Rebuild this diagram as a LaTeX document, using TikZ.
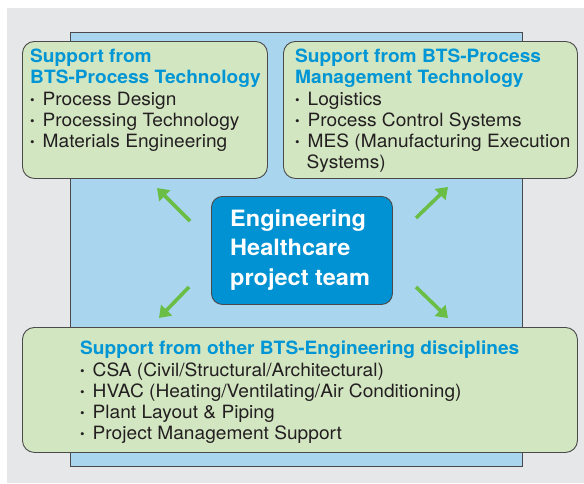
\documentclass[tikz,border=0pt]{standalone}
\usepackage{fontspec}
\setmainfont{TeX Gyre Heros}[FakeStretch=1.045]
\usetikzlibrary{arrows.meta}
\definecolor{bggray}{HTML}{E6E7E8}
\definecolor{skyblue}{HTML}{A9D5EF}
\definecolor{boxgreen}{HTML}{D3E6C2}
\definecolor{teamblue}{HTML}{0092D2}
\definecolor{titleblue}{HTML}{0096D6}
\definecolor{edgegray}{HTML}{4A4A4A}
\definecolor{arrowgreen}{HTML}{6ABD45}
\definecolor{inkblack}{HTML}{231F20}
\newcommand{\bl}{\makebox[12.5pt][l]{\raisebox{1pt}{\fontsize{12.5}{12}\selectfont •}}}
\tikzset{
  greenbox/.style={draw=edgegray, line width=0.9pt, fill=boxgreen, rounded corners=12pt, anchor=north west, inner sep=0pt},
  teambox/.style={draw=edgegray, line width=0.9pt, fill=teamblue, rounded corners=11pt, anchor=north west, inner sep=0pt},
  boxtext/.style={anchor=base west, align=left, inner sep=0pt, text=inkblack, font=\fontsize{18.3}{21}\selectfont},
  teamtext/.style={anchor=base west, align=left, inner sep=0pt, text=white, font=\bfseries\fontsize{22.5}{29.5}\selectfont},
  greenarrow/.style={draw=arrowgreen, line width=3.6pt, -{Triangle[length=11pt,width=15pt]}},
}
\newcommand{\ttl}[1]{{\bfseries\color{titleblue}#1}}
\begin{document}
\begin{tikzpicture}[x=1pt,y=-1pt]
\useasboundingbox (0,0) rectangle (584,483);
\fill[white] (0,0) rectangle (584,483);
\fill[bggray] (7,8) rectangle (584,483);
\node[draw=edgegray, line width=1pt, fill=skyblue, anchor=north west, inner sep=0pt, minimum width=452pt, minimum height=434pt] (panel) at (70,32) {};
\node[greenbox, minimum width=245pt, minimum height=137pt] (tl) at (22,41) {};
\node[greenbox, minimum width=294pt, minimum height=137pt] (tr) at (283,41) {};
\node[greenbox, minimum width=555pt, minimum height=125pt] (bot) at (22,327) {};
\node[teambox, minimum width=181pt, minimum height=108pt] (team) at (211,196) {};
% base anchor of a multi-line node = baseline of its last line
\node[boxtext] (tltext) at (30,147) {\ttl{Support from}\\ \ttl{BTS-Process Technology}\\[1pt] \bl Process Design\\ \bl Processing Technology\\ \bl Materials Engineering};
\node[boxtext] (trtext) at (295,168) {\ttl{Support from BTS-Process}\\ \ttl{Management Technology}\\[1pt] \bl Logistics\\ \bl Process Control Systems\\ \bl MES (Manufacturing Execution\\ \hspace*{11.5pt}Systems)};
\node[boxtext] (bottext) at (80,439) {\ttl{Support from other BTS-Engineering disciplines}\\[1pt] \bl CSA (Civil/Structural/Architectural)\\ \bl HVAC (Heating/Ventilating/Air Conditioning)\\ \bl Plant Layout \& Piping\\ \bl Project Management Support};
\node[teamtext] (teamtext) at (230,285) {Engineering\\ Healthcare\\ project team};
\coordinate (a1s) at (190,221); \coordinate (a1e) at (157,188);
\coordinate (a2s) at (416,218); \coordinate (a2e) at (448,187);
\coordinate (a3s) at (189,287); \coordinate (a3e) at (159,318);
\coordinate (a4s) at (416,287); \coordinate (a4e) at (448,318);
\draw[greenarrow] (a1s) -- (a1e);
\draw[greenarrow] (a2s) -- (a2e);
\draw[greenarrow] (a3s) -- (a3e);
\draw[greenarrow] (a4s) -- (a4e);
\end{tikzpicture}
\end{document}
